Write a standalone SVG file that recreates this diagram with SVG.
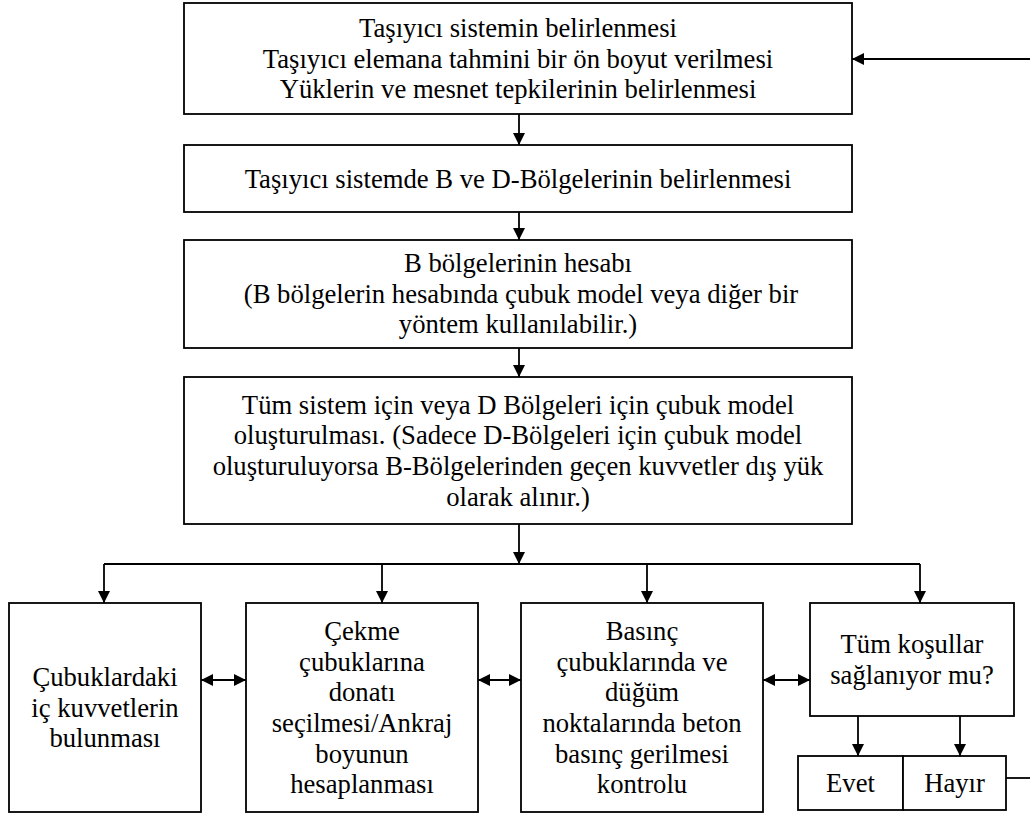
<svg xmlns="http://www.w3.org/2000/svg" width="1030" height="814" viewBox="0 0 1030 814">
  <style>
    .box { fill: #fff; stroke: #000; stroke-width: 1.8; }
    .lbl { font-family: "Liberation Serif", "Times New Roman", serif; font-size: 26.67px; fill: #000; text-anchor: middle; }
    .wire { fill: none; stroke: #000; stroke-width: 1.8; }
    .arr { marker-end: url(#head); }
    .dbl { marker-start: url(#head); marker-end: url(#head); }
  </style>
  <defs>
    <marker id="head" viewBox="0 0 12 12" refX="12" refY="6" markerWidth="12" markerHeight="12" markerUnits="userSpaceOnUse" orient="auto-start-reverse">
      <path d="M0,0 L12,6 L0,12 Z" fill="#000"/>
    </marker>
  </defs>

  <rect width="1030" height="814" fill="#fff"/>

  <!-- connectors -->
  <g id="connectors">
    <line class="wire arr" x1="519" y1="114" x2="519" y2="145"/>
    <line class="wire arr" x1="519" y1="212" x2="519" y2="240"/>
    <line class="wire arr" x1="519" y1="348" x2="519" y2="377"/>
    <line class="wire arr" x1="519" y1="524" x2="519" y2="564"/>
    <line class="wire" x1="104" y1="564" x2="920" y2="564"/>
    <line class="wire arr" x1="104" y1="564" x2="104" y2="603"/>
    <line class="wire arr" x1="382" y1="564" x2="382" y2="603"/>
    <line class="wire arr" x1="647" y1="564" x2="647" y2="603"/>
    <line class="wire arr" x1="920" y1="564" x2="920" y2="603"/>
    <line class="wire dbl" x1="201" y1="680" x2="246" y2="680"/>
    <line class="wire dbl" x1="478" y1="680" x2="521" y2="680"/>
    <line class="wire dbl" x1="763" y1="680" x2="810" y2="680"/>
    <line class="wire arr" x1="858" y1="716" x2="858" y2="756"/>
    <line class="wire arr" x1="960" y1="716" x2="960" y2="756"/>
    <line class="wire" x1="1006" y1="778" x2="1030" y2="778"/>
    <line class="wire arr" x1="1030" y1="59" x2="852" y2="59"/>
  </g>

  <g id="n-sistem">
    <rect class="box" x="184" y="3" width="668" height="111"/>
    <text class="lbl" x="518" y="37">Taşıyıcı sistemin belirlenmesi</text>
    <text class="lbl" x="518" y="67.5">Taşıyıcı elemana tahmini bir ön boyut verilmesi</text>
    <text class="lbl" x="518" y="98">Yüklerin ve mesnet tepkilerinin belirlenmesi</text>
  </g>

  <g id="n-bolgeler">
    <rect class="box" x="184" y="145" width="668" height="67"/>
    <text class="lbl" x="518" y="187.5">Taşıyıcı sistemde B ve D-Bölgelerinin belirlenmesi</text>
  </g>

  <g id="n-b-hesap">
    <rect class="box" x="184" y="240" width="668" height="108"/>
    <text class="lbl" x="518" y="272">B bölgelerinin hesabı</text>
    <text class="lbl" x="521" y="302.7">(B bölgelerin hesabında çubuk model veya diğer bir</text>
    <text class="lbl" x="518" y="333.4">yöntem kullanılabilir.)</text>
  </g>

  <g id="n-cubuk-model">
    <rect class="box" x="184" y="377" width="668" height="147"/>
    <text class="lbl" x="518" y="413.5">Tüm sistem için veya D Bölgeleri için çubuk model</text>
    <text class="lbl" x="518" y="444.2">oluşturulması. (Sadece D-Bölgeleri için çubuk model</text>
    <text class="lbl" x="518" y="474.9">oluşturuluyorsa B-Bölgelerinden geçen kuvvetler dış yük</text>
    <text class="lbl" x="518" y="505.6">olarak alınır.)</text>
  </g>

  <g id="n-ic-kuvvet">
    <rect class="box" x="9" y="603" width="192" height="209"/>
    <text class="lbl" x="105" y="686">Çubuklardaki</text>
    <text class="lbl" x="105" y="716.5">iç kuvvetlerin</text>
    <text class="lbl" x="105" y="747">bulunması</text>
  </g>

  <g id="n-cekme">
    <rect class="box" x="246" y="603" width="232" height="209"/>
    <text class="lbl" x="362" y="639.8">Çekme</text>
    <text class="lbl" x="362" y="670.5">çubuklarına</text>
    <text class="lbl" x="362" y="701.2">donatı</text>
    <text class="lbl" x="362" y="731.9">seçilmesi/Ankraj</text>
    <text class="lbl" x="362" y="762.6">boyunun</text>
    <text class="lbl" x="362" y="793.3">hesaplanması</text>
  </g>

  <g id="n-basinc">
    <rect class="box" x="521" y="603" width="242" height="209"/>
    <text class="lbl" x="642" y="639.8">Basınç</text>
    <text class="lbl" x="642" y="670.5">çubuklarında ve</text>
    <text class="lbl" x="642" y="701.2">düğüm</text>
    <text class="lbl" x="642" y="731.9">noktalarında beton</text>
    <text class="lbl" x="642" y="762.6">basınç gerilmesi</text>
    <text class="lbl" x="642" y="793.3">kontrolu</text>
  </g>

  <g id="n-kosullar">
    <rect class="box" x="810" y="603" width="204" height="113"/>
    <text class="lbl" x="912" y="653">Tüm koşullar</text>
    <text class="lbl" x="912" y="684">sağlanıyor mu?</text>
  </g>

  <g id="n-evet">
    <rect class="box" x="798" y="756" width="105" height="54"/>
    <text class="lbl" x="850.5" y="792">Evet</text>
  </g>

  <g id="n-hayir">
    <rect class="box" x="903" y="756" width="103" height="54"/>
    <text class="lbl" x="954.5" y="792">Hayır</text>
  </g>
</svg>
